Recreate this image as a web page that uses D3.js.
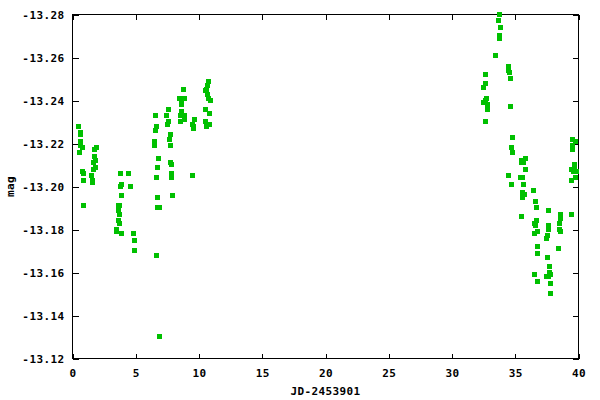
<!DOCTYPE html>
<html>
<head>
<meta charset="utf-8">
<script src="https://cdn.jsdelivr.net/npm/d3@7"></script>
<style>
  html, body { margin: 0; padding: 0; background: #fff; }
  svg { display: block; }
  text { font-family: "DejaVu Sans Mono", "Liberation Mono", monospace; font-weight: bold; font-size: 11px; letter-spacing: 0.4px; fill: #000; }
</style>
</head>
<body>
<svg id="chart" width="600" height="400"></svg>
<script>
// Julian date offsets (JD-2453901)
const jd = [
  0.46,0.62,0.62,0.62,0.62,0.78,0.54,0.78,0.86,0.86,0.86,
  1.88,1.73,1.73,1.80,1.65,1.80,1.65,1.49,1.57,1.57,
  3.78,4.42,3.86,3.78,4.57,3.86,3.62,3.70,3.62,3.70,3.62,3.70,3.47,3.47,3.86,4.81,4.89,4.89,
  6.55,6.63,6.55,6.47,6.47,6.79,6.71,6.63,6.71,6.71,6.87,6.63,6.87,
  7.58,7.42,7.58,7.50,7.74,7.66,7.74,7.74,7.82,7.82,7.82,7.90,
  8.77,8.45,8.85,8.61,8.61,8.61,8.53,8.85,8.85,8.53,
  9.64,9.48,9.56,9.56,9.48,
  10.75,10.67,10.59,10.51,10.67,10.75,10.90,10.51,10.83,10.51,10.83,10.59,
  33.77,33.69,33.85,33.77,33.77,33.46,32.67,32.67,32.51,32.74,32.67,32.51,32.82,32.82,32.67,
  34.49,34.49,34.56,34.64,34.64,34.80,34.72,34.80,34.49,34.72,
  35.83,35.51,35.67,35.51,35.83,35.43,35.59,35.67,35.59,35.75,35.59,35.51,
  36.46,36.62,36.70,36.70,36.54,36.62,36.78,36.54,36.78,36.78,36.54,36.78,
  37.65,37.65,37.65,37.57,37.49,37.57,37.73,37.73,37.81,37.65,37.49,37.81,37.81,
  38.60,38.60,38.52,38.52,38.60,38.44,
  39.47,39.55,39.79,39.55,39.55,39.71,39.71,39.47,39.63,39.87,39.47,39.79
];
// magnitudes
const mag = [
  -13.228,-13.225,-13.224,-13.221,-13.219,-13.218,-13.216,-13.207,-13.206,-13.203,-13.191,
  -13.218,-13.217,-13.214,-13.212,-13.211,-13.209,-13.208,-13.205,-13.203,-13.202,
  -13.206,-13.206,-13.201,-13.200,-13.200,-13.196,-13.191,-13.191,-13.189,-13.187,-13.184,-13.183,-13.180,-13.179,-13.178,-13.178,-13.175,-13.170,
  -13.233,-13.228,-13.226,-13.221,-13.219,-13.213,-13.209,-13.204,-13.195,-13.190,-13.190,-13.168,-13.130,
  -13.236,-13.233,-13.230,-13.229,-13.224,-13.222,-13.219,-13.211,-13.210,-13.206,-13.204,-13.196,
  -13.245,-13.241,-13.241,-13.239,-13.238,-13.235,-13.233,-13.233,-13.231,-13.230,
  -13.231,-13.229,-13.228,-13.227,-13.205,
  -13.249,-13.247,-13.245,-13.2445,-13.243,-13.241,-13.240,-13.236,-13.234,-13.230,-13.229,-13.228,
  -13.280,-13.277,-13.274,-13.270,-13.269,-13.261,-13.252,-13.248,-13.246,-13.241,-13.240,-13.239,-13.238,-13.236,-13.230,
  -13.256,-13.254,-13.253,-13.250,-13.237,-13.223,-13.218,-13.216,-13.205,-13.201,
  -13.213,-13.212,-13.211,-13.211,-13.208,-13.204,-13.204,-13.201,-13.197,-13.1965,-13.195,-13.186,
  -13.198,-13.193,-13.190,-13.184,-13.183,-13.182,-13.179,-13.178,-13.172,-13.169,-13.159,-13.156,
  -13.189,-13.182,-13.180,-13.177,-13.176,-13.167,-13.163,-13.160,-13.159,-13.158,-13.158,-13.155,-13.150,
  -13.187,-13.185,-13.183,-13.180,-13.179,-13.171,
  -13.187,-13.222,-13.221,-13.219,-13.217,-13.210,-13.209,-13.208,-13.207,-13.207,-13.203,-13.204
];
const xTicks = [0, 5, 10, 15, 20, 25, 30, 35, 40];
const yTicks = [-13.28, -13.26, -13.24, -13.22, -13.20, -13.18, -13.16, -13.14, -13.12];
const xLabel = "JD-2453901";
const yLabel = "mag";

const svg = d3.select("#chart");
const L = 72.5, R = 578.5, T = 14.5, B = 358.5;
const x = d3.scaleLinear().domain([0, 40]).range([L, R]);
const y = d3.scaleLinear().domain([-13.28, -13.12]).range([T, B]);

svg.append("rect").attr("width", 600).attr("height", 400).attr("fill", "#fff");

const fmtY = d => d.toFixed(2);

function styleAxis(g) {
  g.select(".domain").remove();
  g.selectAll("line").attr("stroke", "#000").attr("shape-rendering", "crispEdges");
  g.selectAll("text").attr("font-family", null).attr("font-size", null);
}

svg.append("g").attr("transform", `translate(${L},0)`)
  .call(d3.axisLeft(y).tickValues(yTicks).tickFormat(fmtY).tickSize(-6).tickPadding(8))
  .call(styleAxis);
svg.append("g").attr("transform", `translate(${R},0)`)
  .call(d3.axisRight(y).tickValues(yTicks).tickFormat("").tickSize(-6))
  .call(styleAxis);
svg.append("g").attr("transform", `translate(0,${B})`)
  .call(d3.axisBottom(x).tickValues(xTicks).tickFormat(d3.format("d")).tickSize(-5).tickPadding(10.5))
  .call(styleAxis);
svg.append("g").attr("transform", `translate(0,${T})`)
  .call(d3.axisTop(x).tickValues(xTicks).tickFormat("").tickSize(-5))
  .call(styleAxis);

svg.append("rect")
  .attr("x", L).attr("y", T).attr("width", R - L).attr("height", B - T)
  .attr("fill", "none").attr("stroke", "#000").attr("shape-rendering", "crispEdges");

const pts = jd.map((d, i) => ({ t: d, m: mag[i] }));
svg.append("g").selectAll("rect").data(pts).join("rect")
  .attr("x", d => Math.round(x(d.t) - 2.5))
  .attr("y", d => Math.round(y(d.m) - 2.5))
  .attr("width", 5).attr("height", 5)
  .attr("fill", "#00c000")
  .attr("shape-rendering", "crispEdges");

svg.append("text").attr("x", (L + R) / 2).attr("y", 395).attr("text-anchor", "middle").text(xLabel);
svg.append("text").attr("transform", `translate(14,${(T + B) / 2}) rotate(-90)`).attr("text-anchor", "middle").text(yLabel);
</script>
</body>
</html>
